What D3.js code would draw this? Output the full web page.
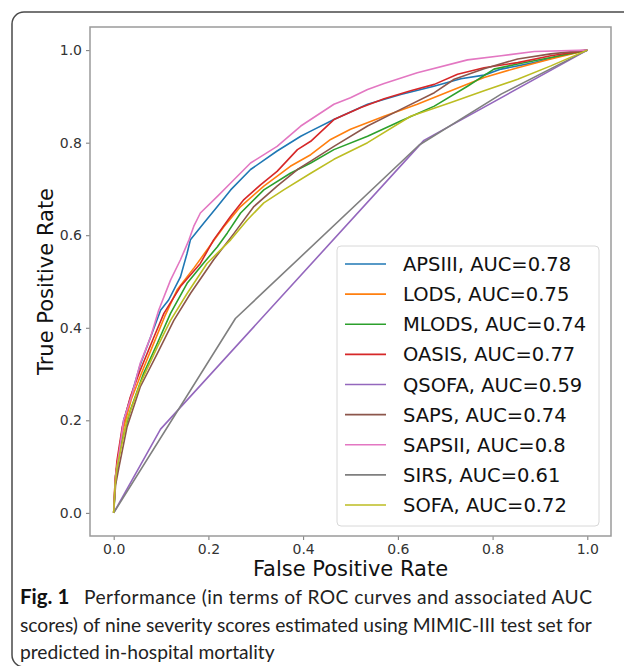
<!DOCTYPE html>
<html>
<head>
<meta charset="utf-8">
<script src="https://cdn.jsdelivr.net/npm/d3@7"></script>
<style>
  body { margin: 0; background: #fff; }
  svg { display: block; }
</style>
</head>
<body>
<svg id="chart" width="624" height="666"></svg>
<script>
// score names and their auc, in legend order
let scoreNames = ["APSIII", "LODS", "MLODS", "OASIS", "QSOFA", "SAPS", "SAPSII", "SIRS", "SOFA"];
let aucValues = ["0.78", "0.75", "0.74", "0.77", "0.59", "0.74", "0.8", "0.61", "0.72"];
let lineColors = ["#1f77b4", "#ff7f0e", "#2ca02c", "#d62728", "#9467bd", "#8c564b", "#e377c2", "#7f7f7f", "#bcbd22"];

// roc points [fpr, tpr]
let apsiii = [[0,0],[0.004,0.08],[0.011,0.13],[0.021,0.2],[0.039,0.26],[0.056,0.32],[0.078,0.38],[0.099,0.438],[0.116,0.46],[0.141,0.51],[0.155,0.561],[0.162,0.59],[0.19,0.626],[0.219,0.662],[0.247,0.698],[0.289,0.742],[0.345,0.782],[0.395,0.814],[0.416,0.825],[0.465,0.85],[0.536,0.883],[0.606,0.904],[0.676,0.922],[0.733,0.938],[0.782,0.946],[0.818,0.959],[0.888,0.973],[0.944,0.988],[1,1]];
let lods = [[0,0],[0.003,0.07],[0.008,0.11],[0.02,0.18],[0.037,0.245],[0.058,0.3],[0.086,0.37],[0.108,0.425],[0.134,0.482],[0.17,0.53],[0.211,0.588],[0.233,0.619],[0.268,0.662],[0.317,0.706],[0.373,0.749],[0.416,0.774],[0.458,0.807],[0.5,0.829],[0.571,0.857],[0.641,0.883],[0.712,0.912],[0.782,0.941],[0.853,0.962],[0.923,0.981],[1,1]];
let mlods = [[0,0],[0.004,0.07],[0.014,0.142],[0.035,0.221],[0.063,0.301],[0.092,0.366],[0.12,0.431],[0.155,0.496],[0.19,0.54],[0.219,0.575],[0.24,0.605],[0.268,0.648],[0.317,0.698],[0.373,0.734],[0.416,0.756],[0.465,0.785],[0.536,0.814],[0.606,0.847],[0.677,0.879],[0.747,0.922],[0.803,0.959],[0.853,0.97],[0.923,0.984],[1,1]];
let oasis = [[0,0],[0.003,0.07],[0.007,0.113],[0.018,0.185],[0.035,0.25],[0.056,0.308],[0.085,0.38],[0.106,0.431],[0.141,0.489],[0.183,0.539],[0.211,0.59],[0.247,0.641],[0.275,0.677],[0.31,0.709],[0.345,0.738],[0.388,0.785],[0.416,0.803],[0.465,0.85],[0.522,0.876],[0.571,0.895],[0.627,0.912],[0.677,0.926],[0.726,0.948],[0.782,0.962],[0.853,0.973],[0.923,0.988],[1,1]];
let qsofa = [[0,0],[0.099,0.181],[0.655,0.805],[1,1]];
let saps = [[0,0],[0.004,0.06],[0.011,0.098],[0.028,0.185],[0.056,0.272],[0.092,0.344],[0.127,0.416],[0.162,0.474],[0.211,0.547],[0.254,0.604],[0.296,0.662],[0.345,0.706],[0.388,0.742],[0.416,0.76],[0.465,0.792],[0.536,0.836],[0.606,0.872],[0.677,0.908],[0.719,0.937],[0.782,0.96],[0.853,0.981],[0.923,0.992],[1,1]];
let sapsii = [[0,0],[0.004,0.08],[0.011,0.127],[0.021,0.2],[0.039,0.257],[0.056,0.323],[0.078,0.38],[0.095,0.438],[0.12,0.503],[0.141,0.547],[0.159,0.59],[0.169,0.619],[0.183,0.648],[0.219,0.684],[0.247,0.713],[0.289,0.756],[0.345,0.792],[0.395,0.836],[0.465,0.883],[0.5,0.897],[0.536,0.915],[0.571,0.928],[0.641,0.951],[0.747,0.979],[0.818,0.988],[0.888,0.997],[1,1]];
let sirs = [[0,0],[0.257,0.42],[0.645,0.795],[0.818,0.905],[1,1]];
let sofa = [[0,0],[0.003,0.06],[0.007,0.098],[0.028,0.2],[0.056,0.279],[0.092,0.358],[0.12,0.416],[0.155,0.474],[0.197,0.539],[0.247,0.59],[0.282,0.633],[0.317,0.67],[0.359,0.698],[0.416,0.734],[0.465,0.764],[0.536,0.8],[0.627,0.857],[0.712,0.887],[0.782,0.912],[0.853,0.937],[0.923,0.966],[1,1]];

let curves = [apsiii, lods, mlods, oasis, qsofa, saps, sapsii, sirs, sofa];
let tickValues = [0, 0.2, 0.4, 0.6, 0.8, 1.0];

let captionBold = "Fig. 1";
let captionLines = [
  "Performance (in terms of ROC curves and associated AUC",
  "scores) of nine severity scores estimated using MIMIC-III test set for",
  "predicted in-hospital mortality"
];

let svg = d3.select("#chart");

// outer rounded frame, right and bottom run off the page
svg.append("rect")
  .attr("x", 12).attr("y", 12)
  .attr("width", 640).attr("height", 655)
  .attr("rx", 12).attr("ry", 12)
  .attr("fill", "none")
  .attr("stroke", "#4a4a4a")
  .attr("stroke-width", 1.5);

// plot area
let plot = { left: 90, top: 27, right: 611, bottom: 536 };

let x = d3.scaleLinear().domain([-0.05, 1.05]).range([plot.left, plot.right]);
let y = d3.scaleLinear().domain([-0.05, 1.05]).range([plot.bottom, plot.top]);

let tickFormat = d3.format(".1f");

let xAxis = svg.append("g")
  .attr("transform", "translate(0," + plot.bottom + ")")
  .call(d3.axisBottom(x).tickValues(tickValues).tickFormat(tickFormat).tickSizeOuter(0).tickSize(4).tickPadding(4));
let yAxis = svg.append("g")
  .attr("transform", "translate(" + plot.left + ",0)")
  .call(d3.axisLeft(y).tickValues(tickValues).tickFormat(tickFormat).tickSizeOuter(0).tickSize(4).tickPadding(4));

[xAxis, yAxis].forEach(function(ax) {
  ax.select(".domain").remove();
  ax.selectAll(".tick line").attr("stroke", "#777");
  ax.selectAll(".tick text")
    .attr("fill", "#333")
    .style("font-family", "DejaVu Sans")
    .style("font-size", "14px");
});

// axes box
svg.append("rect")
  .attr("x", plot.left).attr("y", plot.top)
  .attr("width", plot.right - plot.left)
  .attr("height", plot.bottom - plot.top)
  .attr("fill", "none")
  .attr("stroke", "#9a9a9a")
  .attr("stroke-width", 1.5);

// roc lines
let line = d3.line()
  .x(function(d) { return x(d[0]); })
  .y(function(d) { return y(d[1]); });

svg.append("g")
  .selectAll("path")
  .data(curves)
  .enter()
  .append("path")
  .attr("d", line)
  .attr("fill", "none")
  .attr("stroke", function(d, i) { return lineColors[i]; })
  .attr("stroke-width", 1.6)
  .attr("stroke-linejoin", "round");

// axis titles
svg.append("text")
  .attr("x", (plot.left + plot.right) / 2)
  .attr("y", 576)
  .attr("text-anchor", "middle")
  .attr("fill", "#111")
  .style("font-family", "DejaVu Sans")
  .style("font-size", "21px")
  .text("False Positive Rate");

svg.append("text")
  .attr("transform", "translate(53," + (plot.top + plot.bottom) / 2 + ") rotate(-90)")
  .attr("text-anchor", "middle")
  .attr("fill", "#111")
  .style("font-family", "DejaVu Sans")
  .style("font-size", "21px")
  .text("True Positive Rate");

// legend
let legend = svg.append("g");
legend.append("rect")
  .attr("x", 337).attr("y", 246)
  .attr("width", 262).attr("height", 280)
  .attr("rx", 4)
  .attr("fill", "rgba(255,255,255,0.8)")
  .attr("stroke", "#d8d8d8")
  .attr("stroke-width", 1);

let rowY = d3.scaleLinear().domain([0, 8]).range([264, 505]);
let rows = legend.selectAll(".row")
  .data(scoreNames)
  .enter()
  .append("g")
  .attr("transform", function(d, i) { return "translate(0," + rowY(i) + ")"; });

rows.append("line")
  .attr("x1", 345).attr("x2", 386)
  .attr("stroke", function(d, i) { return lineColors[i]; })
  .attr("stroke-width", 1.6);

rows.append("text")
  .attr("x", 403)
  .attr("dy", "0.36em")
  .attr("fill", "#111")
  .style("font-family", "DejaVu Sans")
  .style("font-size", "19.5px")
  .text(function(d, i) { return d + ", AUC=" + aucValues[i]; });

// caption
let cap = svg.append("g")
  .style("font-family", "Lato")
  .style("font-size", "20px")
  .attr("fill", "#222");

cap.append("text").attr("x", 20).attr("y", 604)
  .attr("font-weight", "bold").attr("fill", "#111")
  .style("font-size", "20.5px")
  .text(captionBold);
let l1 = cap.append("text").attr("x", 84).attr("y", 604).text(captionLines[0]);
let l2 = cap.append("text").attr("x", 20).attr("y", 632).text(captionLines[1]);
let l3 = cap.append("text").attr("x", 20).attr("y", 659).text(captionLines[2]);

// fit the caption lines to the widths of the original
l2.style("font-size", (20 * 572 / l2.node().getComputedTextLength()).toFixed(2) + "px");
l3.style("font-size", l2.style("font-size"));
l1.style("font-size", l2.style("font-size"));
l1.attr("textLength", 508).attr("lengthAdjust", "spacing");
</script>
</body>
</html>
